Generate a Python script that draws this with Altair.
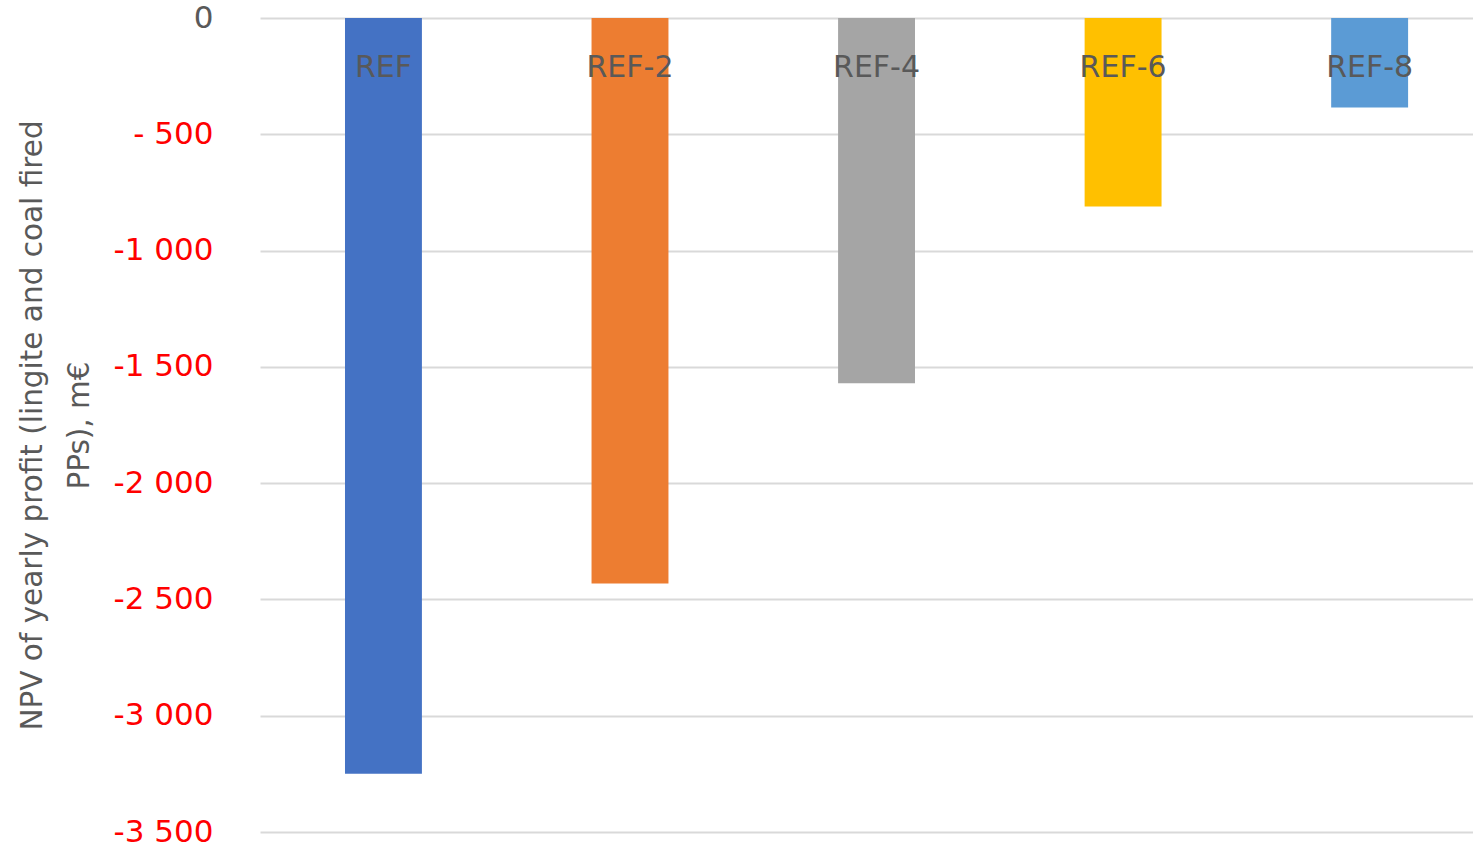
import altair as alt
import pandas as pd

# Scenario results: NPV of yearly profit for lignite and coal fired power plants (m€)
scenarios = ["REF", "REF-2", "REF-4", "REF-6", "REF-8"]
npv_values = [-3250, -2432, -1570, -810, -385]
bar_colors = ["#4472C4", "#ED7D31", "#A5A5A5", "#FFC000", "#5B9BD5"]

# Y axis ticks and their printed labels
tick_values = [0, -500, -1000, -1500, -2000, -2500, -3000, -3500]
tick_labels = ["0", "- 500", "-1 000", "-1 500", "-2 000", "-2 500", "-3 000", "-3 500"]

df = pd.DataFrame({"scenario": scenarios, "npv": npv_values, "base": [0] * len(scenarios)})

# Build a label lookup expression from the tick lists
label_expr = "''"
for v, lab in zip(reversed(tick_values), reversed(tick_labels)):
    label_expr = f"datum.value == {v} ? '{lab}' : ({label_expr})"

FONT = "DejaVu Sans"
GREY_TEXT = "#595959"

x_enc = alt.X(
    "scenario:N",
    sort=scenarios,
    axis=None,
    scale=alt.Scale(paddingInner=0.688, paddingOuter=0.304, align=0.567),
)

bars = alt.Chart(df).mark_bar().encode(
    x=x_enc,
    y=alt.Y(
        "npv:Q",
        scale=alt.Scale(domain=[-3500, 0], nice=False, zero=True),
        axis=alt.Axis(
            values=tick_values,
            labelExpr=label_expr,
            labelColor=alt.expr("datum.value == 0 ? '#595959' : '#FF0000'"),
            labelFont=FONT,
            labelFontSize=31,
            labelPadding=47,
            labelAlign="right",
            labelBaseline="middle",
            ticks=False,
            tickSize=0,
            domain=False,
            grid=True,
            gridColor="#D9D9D9",
            gridWidth=2,
            title=["NPV of yearly profit (lingite and coal fired", "PPs), m€"],
            titleFont=FONT,
            titleFontSize=29.5,
            titleFontWeight="normal",
            titleColor=GREY_TEXT,
            titleAngle=-90,
            titleAlign="center",
            titleBaseline="middle",
            titleLineHeight=47,
            titleX=-228,
            titleY=407,
        ),
    ),
    color=alt.Color(
        "scenario:N",
        sort=scenarios,
        scale=alt.Scale(domain=scenarios, range=bar_colors),
        legend=None,
    ),
)

labels = alt.Chart(df).mark_text(
    font=FONT,
    fontSize=30,
    color=GREY_TEXT,
    align="center",
    baseline="alphabetic",
    dy=59,
).encode(
    x=x_enc,
    y=alt.Y("base:Q"),
    text="scenario:N",
)

chart = (
    alt.layer(bars, labels)
    .properties(
        width=1213,
        height=814,
        autosize=alt.AutoSizeParams(type="none"),
        padding={"left": 260, "top": 18, "right": 0, "bottom": 14},
        background="white",
    )
    .configure_view(stroke=None)
)

chart.save("out.html", embed_options={"renderer": "svg", "actions": False})
